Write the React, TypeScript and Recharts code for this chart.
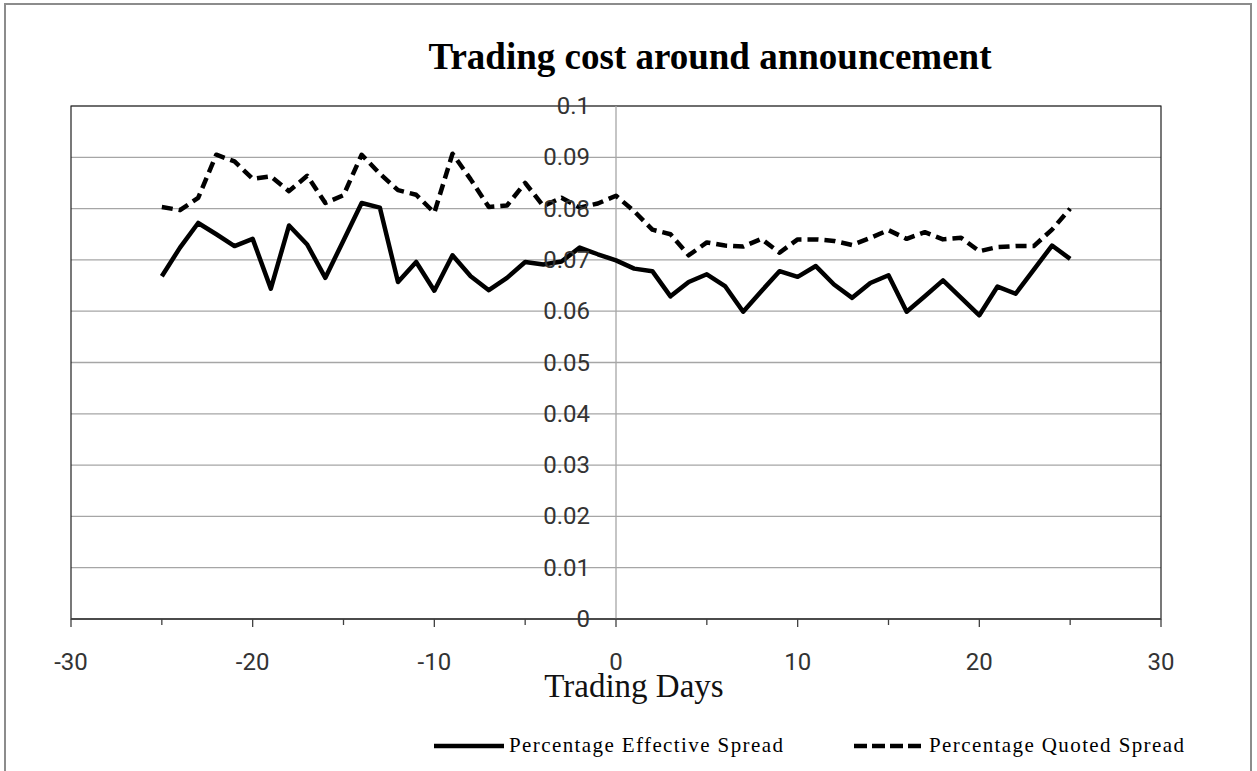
import React from "react";
import {
  LineChart,
  Line,
  XAxis,
  YAxis,
  CartesianGrid,
  ReferenceLine,
  ReferenceDot,
  ReferenceArea,
  Label,
} from "recharts";

// Trading days relative to the announcement (day 0)
const days = [
  -25, -24, -23, -22, -21, -20, -19, -18, -17, -16, -15, -14, -13, -12, -11, -10, -9, -8, -7, -6, -5, -4, -3, -2, -1,
  0, 1, 2, 3, 4, 5, 6, 7, 8, 9, 10, 11, 12, 13, 14, 15, 16, 17, 18, 19, 20, 21, 22, 23, 24, 25,
];

const effectiveSpread = [
  0.0668, 0.0724, 0.0772, 0.075, 0.0727, 0.0741, 0.0644, 0.0767, 0.073, 0.0665, 0.0738, 0.0811, 0.0802, 0.0657,
  0.0696, 0.064, 0.0709, 0.0668, 0.0641, 0.0665, 0.0696, 0.0691, 0.0697, 0.0724, 0.0711, 0.0699, 0.0683, 0.0678,
  0.0629, 0.0657, 0.0672, 0.0649, 0.0599, 0.0639, 0.0678, 0.0667, 0.0688, 0.0652, 0.0626, 0.0655, 0.067, 0.0599,
  0.0629, 0.066, 0.0626, 0.0592, 0.0648, 0.0634, 0.0681, 0.0728, 0.0702,
];

const quotedSpread = [
  0.0803, 0.0797, 0.0821, 0.0905, 0.0892, 0.0858, 0.0863, 0.0834, 0.0864, 0.0811, 0.0826, 0.0905, 0.0868, 0.0836,
  0.0827, 0.0792, 0.0907, 0.0857, 0.0803, 0.0806, 0.085, 0.0805, 0.0821, 0.0802, 0.081, 0.0825, 0.0795, 0.0759,
  0.075, 0.0709, 0.0734, 0.0728, 0.0726, 0.0741, 0.0714, 0.074, 0.074, 0.0737, 0.0729, 0.0743, 0.0758, 0.0741,
  0.0754, 0.074, 0.0743, 0.0717, 0.0725, 0.0727, 0.0727, 0.0759, 0.08,
];

const xTicks = [-30, -25, -20, -15, -10, -5, 0, 5, 10, 15, 20, 25, 30];
const xLabelTicks = [-30, -20, -10, 0, 10, 20, 30];
const yTicks = [0, 0.01, 0.02, 0.03, 0.04, 0.05, 0.06, 0.07, 0.08, 0.09, 0.1];
const yTickLabels = ["0", "0.01", "0.02", "0.03", "0.04", "0.05", "0.06", "0.07", "0.08", "0.09", "0.1"];

const seriesNames = ["Percentage Effective Spread", "Percentage Quoted Spread"];

const data = days.map((d, i) => ({
  day: d,
  effective: effectiveSpread[i],
  quoted: quotedSpread[i],
}));

const W = 1257;
const H = 771;
const TICK_SIZE = 8;
const TICK_MARGIN = 25;
const AXIS_FONT = "Roboto, 'Open Sans', sans-serif";
const SERIF = "'Liberation Serif', 'Times New Roman', serif";
const LINE_W = 4.5;
const DASH = "11 6";

const XTick = (props: any) => {
  const { x, y, payload } = props;
  const axisY = y - TICK_SIZE - TICK_MARGIN;
  const isMajor = xLabelTicks.includes(payload.value);
  return (
    <g>
      <line x1={x} x2={x} y1={axisY} y2={axisY + (isMajor ? 8 : 6)} stroke="#404040" strokeWidth={1.3} />
      {isMajor && (
        <text x={x} y={axisY + 51} textAnchor="middle" fontFamily={AXIS_FONT} fontSize={24} fill="#333">
          {payload.value}
        </text>
      )}
    </g>
  );
};

const LegendItem = ({ dashed, name }: { dashed: boolean; name: string }) => (
  <div style={{ display: "flex", alignItems: "center" }}>
    <svg width={72} height={10} style={{ display: "block" }}>
      <line
        x1={1}
        x2={71}
        y1={5}
        y2={5}
        stroke="#000"
        strokeWidth={LINE_W}
        strokeDasharray={dashed ? "13 5" : undefined}
      />
    </svg>
    <span
      style={{
        fontFamily: SERIF,
        fontSize: 21,
        letterSpacing: 1.4,
        color: "#000",
        marginLeft: 4,
        whiteSpace: "nowrap",
      }}
    >
      {name}
    </span>
  </div>
);

export default function App() {
  return (
    <div
      style={{
        position: "fixed",
        left: 0,
        top: 0,
        width: W,
        height: H,
        overflow: "hidden",
        background: "#fff",
      }}
    >
      {/* outer frame */}
      <div
        style={{
          position: "absolute",
          left: 4,
          top: 3,
          width: 1244,
          height: 820,
          border: "2px solid #8c8c8c",
          boxSizing: "content-box",
        }}
      />
      <div
        style={{
          position: "absolute",
          left: 0,
          top: 36,
          width: 1420,
          textAlign: "center",
          fontFamily: SERIF,
          fontWeight: "bold",
          fontSize: 37,
          color: "#000",
          lineHeight: "42px",
        }}
      >
        Trading cost around announcement
      </div>
      <div style={{ position: "absolute", left: 0, top: 0 }}>
        <LineChart width={W} height={H} data={data} margin={{ top: 106, right: 96, bottom: 112, left: 71 }}>
          <CartesianGrid
            vertical={false}
            horizontalValues={yTicks}
            stroke="#a6a6a6"
            strokeWidth={1.3}
          />
          <XAxis
            dataKey="day"
            type="number"
            domain={[-30, 30]}
            ticks={xTicks}
            interval={0}
            height={40}
            tickSize={TICK_SIZE}
            tickMargin={TICK_MARGIN}
            tickLine={false}
            axisLine={{ stroke: "#404040", strokeWidth: 1.5 }}
            tick={<XTick />}
          >
            <Label
              content={({ viewBox }: any) => (
                <text
                  x={viewBox.x + viewBox.width / 2 + 18}
                  y={viewBox.y + 78}
                  textAnchor="middle"
                  fontFamily={SERIF}
                  fontSize={33}
                  fill="#111"
                >
                  Trading Days
                </text>
              )}
            />
          </XAxis>
          <YAxis type="number" domain={[0, 0.1]} ticks={yTicks} hide width={0} />
          <ReferenceLine x={0} stroke="#a6a6a6" strokeWidth={1.3} ifOverflow="visible" />
          <ReferenceArea
            x1={-30}
            x2={30}
            y1={0}
            y2={0.1}
            fill="none"
            stroke="#202020"
            strokeWidth={1.2}
            ifOverflow="visible"
          />
          {yTicks.map((v, i) => (
            <ReferenceDot
              key={v}
              x={0}
              y={v}
              r={0}
              fill="none"
              stroke="none"
              ifOverflow="visible"
              label={{
                position: "left",
                offset: 26,
                content: ({ viewBox }: any) => (
                  <text
                    x={viewBox.x - 26}
                    y={viewBox.y + viewBox.height / 2}
                    dy={8}
                    textAnchor="end"
                    fontFamily={AXIS_FONT}
                    fontSize={24}
                    fill="#333"
                  >
                    {yTickLabels[i]}
                  </text>
                ),
              }}
            />
          ))}
          <Line
            type="linear"
            dataKey="effective"
            name={seriesNames[0]}
            stroke="#000"
            strokeWidth={LINE_W}
            strokeLinejoin="round"
            dot={false}
            isAnimationActive={false}
          />
          <Line
            type="linear"
            dataKey="quoted"
            name={seriesNames[1]}
            stroke="#000"
            strokeWidth={LINE_W}
            strokeDasharray={DASH}
            strokeLinejoin="round"
            dot={false}
            isAnimationActive={false}
          />
        </LineChart>
      </div>
      <div style={{ position: "absolute", left: 433, top: 733 }}>
        <LegendItem dashed={false} name={seriesNames[0]} />
      </div>
      <div style={{ position: "absolute", left: 853, top: 733 }}>
        <LegendItem dashed={true} name={seriesNames[1]} />
      </div>
    </div>
  );
}
